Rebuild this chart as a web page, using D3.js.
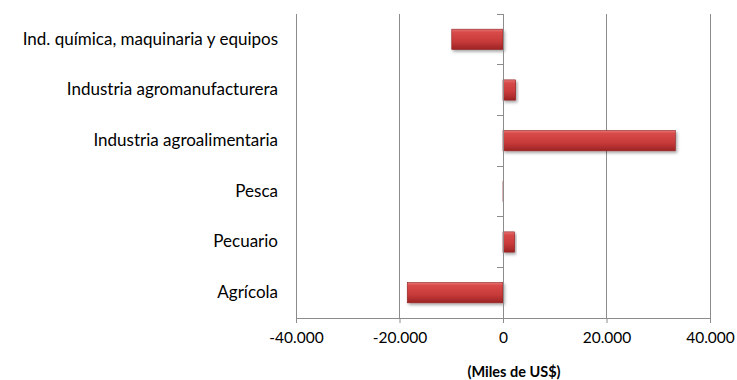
<!DOCTYPE html>
<html><head><meta charset="utf-8">
<script src="https://cdn.jsdelivr.net/npm/d3@7"></script>
<style>body{margin:0;background:#fff;}svg{display:block;font-family:Lato,"Open Sans",sans-serif;}</style>
</head><body>
<svg id="c" width="737" height="380"></svg>
<script>
const categories = ["Ind. química, maquinaria y equipos","Industria agromanufacturera","Industria agroalimentaria","Pesca","Pecuario","Agrícola"];
const values = [-9900, 2450, 33300, 40, 2250, -18500];
const xTicks = [-40000, -20000, 0, 20000, 40000];
const xTitle = "(Miles de US$)";

const svg = d3.select("#c");
const m = {l:296, r:27, t:14, b:62};
const W = 737, H = 380;
const x = d3.scaleLinear().domain([-40000, 40000]).range([m.l, W - m.r]);
const y = d3.scaleBand().domain(categories).range([m.t, H - m.b]).paddingInner(0.6).paddingOuter(0.3);
const yb = d3.scaleBand().domain(categories).range([m.t, H - m.b]);

const defs = svg.append("defs");
const g = defs.append("linearGradient").attr("id","gr").attr("x1",0).attr("y1",0).attr("x2",0).attr("y2",1);
g.append("stop").attr("offset","0").attr("stop-color","#e87474");
g.append("stop").attr("offset","0.15").attr("stop-color","#d84a4a");
g.append("stop").attr("offset","0.6").attr("stop-color","#c83a3a");
g.append("stop").attr("offset","1").attr("stop-color","#9c2424");
const f = defs.append("filter").attr("id","sh").attr("x","-10%").attr("y","-20%").attr("width","130%").attr("height","160%");
f.append("feDropShadow").attr("dx",1.5).attr("dy",2).attr("stdDeviation",1.5).attr("flood-color","#000").attr("flood-opacity",0.35);

// gridlines
svg.append("g").selectAll("line").data(xTicks).join("line")
  .attr("x1", d => x(d)).attr("x2", d => x(d))
  .attr("y1", m.t).attr("y2", H - m.b)
  .attr("stroke", "#8c8c8c").attr("stroke-width", 1).attr("shape-rendering","crispEdges");

// x axis
const xa = svg.append("g").attr("transform", `translate(0,${H - m.b})`)
  .call(d3.axisBottom(x).tickValues(xTicks).tickSize(5).tickSizeOuter(0)
    .tickFormat(d => d3.format(",")(d).replace(/,/g, ".").replace("−","-")));
xa.select(".domain").attr("stroke", "#8c8c8c");
xa.selectAll(".tick line").attr("stroke", "#8c8c8c");
xa.selectAll(".tick text").attr("font-size", 15.5).attr("fill", "#000").attr("dy", "1.1em")
  .attr("font-family","Lato,sans-serif");

// bars
svg.append("g").selectAll("rect").data(categories).join("rect")
  .attr("x", (d,i) => x(Math.min(0, values[i])))
  .attr("width", (d,i) => Math.abs(x(values[i]) - x(0)))
  .attr("y", d => y(d)).attr("height", y.bandwidth())
  .attr("fill", "url(#gr)").attr("stroke", "#8e2020").attr("stroke-width", 0.6)
  .attr("filter", "url(#sh)");

// y axis at zero
const ya = svg.append("g").attr("transform", `translate(${x(0)},0)`)
  .call(d3.axisLeft(yb).tickSize(0).tickFormat(""));
ya.select(".domain").attr("stroke", "#8c8c8c");
const bounds = [m.t].concat(categories.map(c => yb(c) + yb.bandwidth()));
svg.append("g").selectAll("line").data(bounds).join("line")
  .attr("x1", x(0) - 6).attr("x2", x(0)).attr("y1", d => d).attr("y2", d => d)
  .attr("stroke", "#8c8c8c").attr("shape-rendering","crispEdges");

// category labels
svg.append("g").selectAll("text").data(categories).join("text")
  .attr("x", 278).attr("y", d => yb(d) + yb.bandwidth()/2 + 1)
  .attr("text-anchor", "end").attr("dominant-baseline","middle")
  .attr("font-size", 17).attr("fill", "#000").text(d => d);

svg.append("text").attr("x", 514).attr("y", 377).attr("text-anchor","middle")
  .attr("font-size", 14.5).attr("font-weight","bold").attr("fill","#000").text(xTitle);
</script>
</body></html>
